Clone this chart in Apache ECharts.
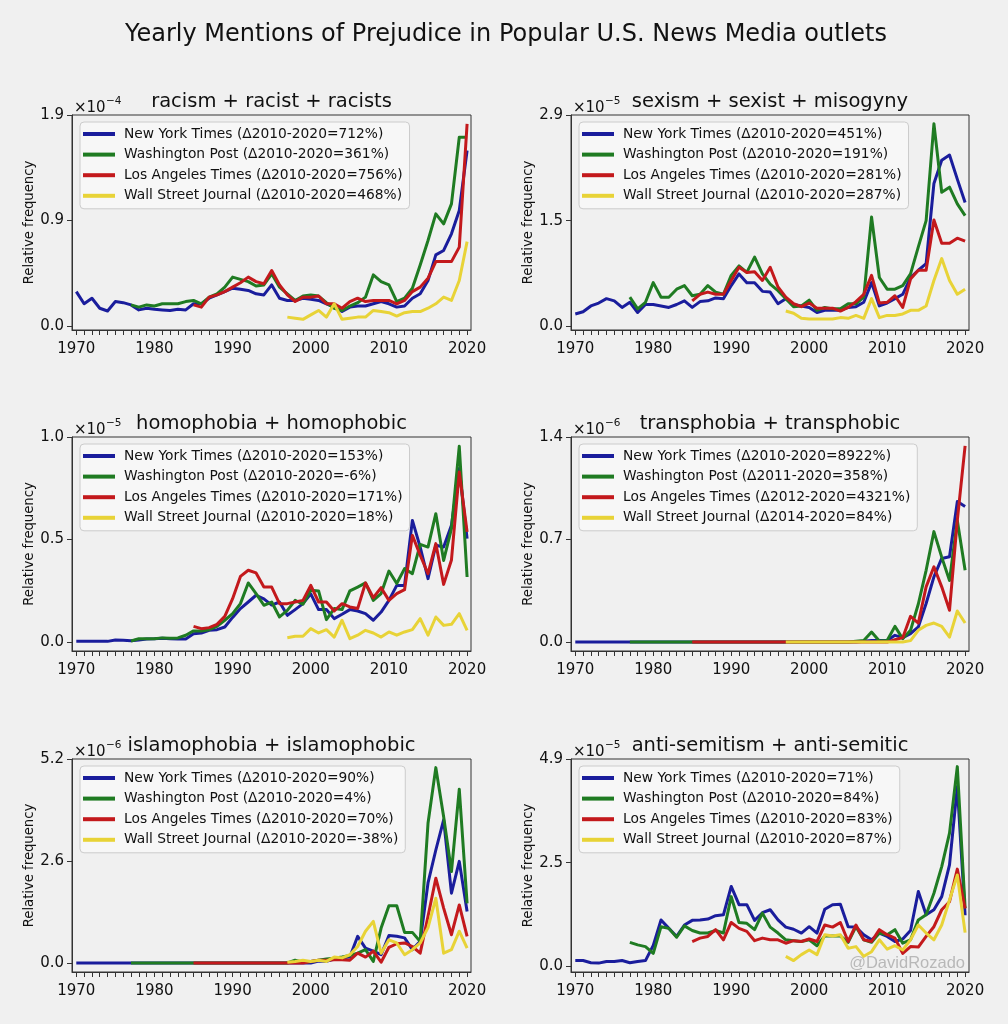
<!DOCTYPE html>
<html>
<head>
<meta charset="utf-8">
<title>Yearly Mentions of Prejudice in Popular U.S. News Media outlets</title>
<script src="https://cdn.jsdelivr.net/npm/echarts@6/dist/echarts.min.js"></script>
<style>
  html, body { margin: 0; padding: 0; background: #f0f0f0; }
  #chart { width: 1008px; height: 1024px; }
</style>
</head>
<body>
<div id="chart"></div>
<script>
// first year of each outlet's series
const nytStart = 1970
const wpStart = 1977
const latStart = 1985
const wsjStart = 1997

const decadeTicks = [1970, 1980, 1990, 2000, 2010, 2020]

// racism + racist + racists (x10^-4)
const racismNYT = [
  0.31, 0.20, 0.25, 0.16, 0.135, 0.22, 0.21, 0.19, 0.145, 0.16,
  0.15, 0.145, 0.14, 0.15, 0.145, 0.20, 0.20, 0.25, 0.28, 0.31,
  0.34, 0.33, 0.32, 0.29, 0.28, 0.37, 0.25, 0.23, 0.23, 0.25,
  0.24, 0.23, 0.20, 0.17, 0.13, 0.17, 0.18, 0.18, 0.20, 0.22,
  0.20, 0.17, 0.18, 0.25, 0.29, 0.41, 0.64, 0.68, 0.83, 1.04,
  1.58
]
const racismWP = [
  0.19, 0.17, 0.19,
  0.18, 0.20, 0.20, 0.20, 0.22, 0.23, 0.20, 0.26, 0.29, 0.35,
  0.44, 0.42, 0.40, 0.36, 0.37, 0.47, 0.35, 0.29, 0.23, 0.27,
  0.28, 0.27, 0.21, 0.16, 0.14, 0.18, 0.21, 0.26, 0.46, 0.40,
  0.37, 0.22, 0.25, 0.34, 0.55, 0.77, 1.01, 0.92, 1.10, 1.70,
  1.70
]
const racismLAT = [
  0.19, 0.17, 0.26, 0.28, 0.31,
  0.35, 0.39, 0.44, 0.40, 0.38, 0.50, 0.37, 0.28, 0.22, 0.26,
  0.26, 0.27, 0.20, 0.20, 0.16, 0.22, 0.25, 0.22, 0.23, 0.23,
  0.23, 0.20, 0.23, 0.31, 0.35, 0.43, 0.58, 0.58, 0.58, 0.71,
  1.82
]
const racismWSJ = [
  0.08, 0.07, 0.06,
  0.10, 0.14, 0.08, 0.20, 0.06, 0.07, 0.08, 0.08, 0.14, 0.13,
  0.12, 0.09, 0.12, 0.13, 0.13, 0.16, 0.20, 0.26, 0.23, 0.41,
  0.76
]
const racismLabels = [
  'New York Times (Δ2010-2020=712%)',
  'Washington Post (Δ2010-2020=361%)',
  'Los Angeles Times (Δ2010-2020=756%)',
  'Wall Street Journal (Δ2010-2020=468%)'
]
const racismTicks = [0, 0.95, 1.9]
const racismTickLabels = ['0.0', '0.9', '1.9']

// sexism + sexist + misogyny (x10^-5)
const sexismNYT = [
  0.17, 0.20, 0.28, 0.32, 0.38, 0.35, 0.26, 0.33, 0.19, 0.30,
  0.30, 0.28, 0.26, 0.30, 0.35, 0.26, 0.34, 0.35, 0.39, 0.38,
  0.56, 0.72, 0.60, 0.60, 0.48, 0.47, 0.31, 0.38, 0.30, 0.28,
  0.26, 0.19, 0.22, 0.22, 0.22, 0.26, 0.27, 0.33, 0.60, 0.28,
  0.32, 0.38, 0.44, 0.67, 0.77, 0.86, 1.96, 2.28, 2.35, 2.02,
  1.70
]
const sexismWP = [
  0.40, 0.24, 0.33,
  0.60, 0.40, 0.40, 0.51, 0.56, 0.42, 0.44, 0.56, 0.47, 0.44,
  0.70, 0.83, 0.74, 0.95, 0.72, 0.58, 0.49, 0.38, 0.27, 0.28,
  0.36, 0.22, 0.26, 0.24, 0.24, 0.31, 0.31, 0.40, 1.50, 0.67,
  0.51, 0.51, 0.56, 0.72, 1.09, 1.45, 2.78, 1.84, 1.91, 1.68,
  1.52
]
const sexismLAT = [
  0.35, 0.44, 0.47, 0.44, 0.44,
  0.63, 0.81, 0.74, 0.75, 0.63, 0.81, 0.54, 0.40, 0.31, 0.27,
  0.32, 0.25, 0.25, 0.25, 0.21, 0.26, 0.34, 0.44, 0.70, 0.32,
  0.33, 0.42, 0.26, 0.65, 0.77, 0.77, 1.46, 1.14, 1.14, 1.21,
  1.17
]
const sexismWSJ = [
  0.21, 0.18, 0.11,
  0.10, 0.10, 0.10, 0.10, 0.12, 0.11, 0.15, 0.11, 0.38, 0.12,
  0.15, 0.15, 0.17, 0.22, 0.22, 0.28, 0.63, 0.93, 0.63, 0.44,
  0.51
]
const sexismLabels = [
  'New York Times (Δ2010-2020=451%)',
  'Washington Post (Δ2010-2020=191%)',
  'Los Angeles Times (Δ2010-2020=281%)',
  'Wall Street Journal (Δ2010-2020=287%)'
]
const sexismTicks = [0, 1.45, 2.9]
const sexismTickLabels = ['0.0', '1.5', '2.9']

// homophobia + homophobic (x10^-5)
const homoNYT = [
  0.003, 0.003, 0.003, 0.003, 0.003, 0.010, 0.008, 0.006, 0.010, 0.015,
  0.016, 0.018, 0.016, 0.015, 0.015, 0.040, 0.044, 0.057, 0.060, 0.073,
  0.120, 0.163, 0.195, 0.228, 0.210, 0.180, 0.195, 0.130, 0.158, 0.187,
  0.235, 0.158, 0.158, 0.114, 0.135, 0.158, 0.151, 0.138, 0.106, 0.146,
  0.203, 0.276, 0.276, 0.593, 0.463, 0.309, 0.472, 0.463, 0.569, 0.846,
  0.504
]
const homoWP = [
  0.005, 0.016, 0.016,
  0.016, 0.020, 0.018, 0.020, 0.033, 0.054, 0.054, 0.060, 0.076, 0.106,
  0.138, 0.187, 0.288, 0.236, 0.179, 0.195, 0.122, 0.154, 0.203, 0.184,
  0.252, 0.249, 0.109, 0.163, 0.158, 0.249, 0.268, 0.288, 0.203, 0.236,
  0.346, 0.285, 0.358, 0.333, 0.476, 0.463, 0.626, 0.398, 0.553, 0.955,
  0.317
]
const homoLAT = [
  0.076, 0.065, 0.070, 0.086, 0.125,
  0.211, 0.320, 0.350, 0.337, 0.268, 0.268, 0.187, 0.187, 0.195, 0.203,
  0.276, 0.195, 0.195, 0.151, 0.187, 0.171, 0.163, 0.288, 0.216, 0.265,
  0.203, 0.236, 0.255, 0.520, 0.423, 0.333, 0.480, 0.281, 0.400, 0.829,
  0.537
]
const homoWSJ = [
  0.021, 0.028, 0.028,
  0.065, 0.044, 0.060, 0.024, 0.106, 0.016, 0.033, 0.057, 0.044, 0.024,
  0.049, 0.033, 0.049, 0.060, 0.114, 0.033, 0.122, 0.081, 0.086, 0.138,
  0.057
]
const homoLabels = [
  'New York Times (Δ2010-2020=153%)',
  'Washington Post (Δ2010-2020=-6%)',
  'Los Angeles Times (Δ2010-2020=171%)',
  'Wall Street Journal (Δ2010-2020=18%)'
]
const homoTicks = [0, 0.5, 1.0]
const homoTickLabels = ['0.0', '0.5', '1.0']

// transphobia + transphobic (x10^-6)
const transNYT = [
  0, 0, 0, 0, 0, 0, 0, 0, 0, 0,
  0, 0, 0, 0, 0, 0, 0, 0, 0, 0,
  0, 0, 0, 0, 0, 0, 0, 0, 0, 0,
  0, 0, 0, 0, 0, 0, 0, 0.005, 0.010, 0.010,
  0.010, 0.046, 0.030, 0.057, 0.103, 0.263, 0.445, 0.571, 0.582, 0.959,
  0.925
]
const transWP = [
  0, 0, 0,
  0, 0, 0, 0, 0, 0, 0, 0, 0, 0,
  0, 0, 0, 0, 0, 0, 0, 0, 0, 0,
  0, 0, 0, 0, 0, 0, 0.005, 0.010, 0.068, 0.007,
  0.011, 0.107, 0.023, 0.080, 0.260, 0.490, 0.754, 0.580, 0.420, 0.830,
  0.490
]
const transLAT = [
  0, 0, 0, 0, 0,
  0, 0, 0, 0, 0, 0, 0, 0, 0, 0,
  0, 0, 0, 0, 0, 0, 0, 0, 0, 0,
  0, 0.016, 0.030, 0.176, 0.130, 0.377, 0.514, 0.377, 0.217, 0.830,
  1.340
]
const transWSJ = [
  0, 0, 0,
  0, 0, 0, 0, 0, 0, 0, 0, 0, 0,
  0, 0, 0, 0.010, 0.080, 0.114, 0.130, 0.107, 0.034, 0.212,
  0.130
]
const transLabels = [
  'New York Times (Δ2010-2020=8922%)',
  'Washington Post (Δ2011-2020=358%)',
  'Los Angeles Times (Δ2012-2020=4321%)',
  'Wall Street Journal (Δ2014-2020=84%)'
]
const transTicks = [0, 0.7, 1.4]
const transTickLabels = ['0.0', '0.7', '1.4']

// islamophobia + islamophobic (x10^-6)
const islamNYT = [
  0, 0, 0, 0, 0, 0, 0, 0, 0, 0,
  0, 0, 0, 0, 0, 0, 0, 0, 0, 0,
  0, 0, 0, 0, 0, 0, 0, 0, 0, 0,
  0, 0.05, 0.04, 0.10, 0.13, 0.15, 0.68, 0.38, 0.30, 0.21,
  0.70, 0.68, 0.64, 0.34, 0.55, 2.04, 2.88, 3.65, 1.78, 2.59,
  1.31
]
const islamWP = [
  0, 0, 0,
  0, 0, 0, 0, 0, 0, 0, 0, 0, 0,
  0, 0, 0, 0, 0, 0, 0, 0, 0.07, 0.02,
  0.04, 0.07, 0.10, 0.12, 0.15, 0.19, 0.25, 0.34, 0.04, 0.89,
  1.46, 1.46, 0.78, 0.78, 0.55, 3.56, 4.98, 3.73, 2.33, 4.43,
  1.52
]
const islamLAT = [
  0, 0, 0, 0, 0,
  0, 0, 0, 0, 0, 0, 0, 0, 0, 0,
  0.04, 0.07, 0.07, 0.08, 0.08, 0.07, 0.25, 0.15, 0.30, 0.02,
  0.40, 0.49, 0.51, 0.42, 0.25, 1.19, 2.16, 1.40, 0.72, 1.48,
  0.68
]
const islamWSJ = [
  0.02, 0.04, 0.07,
  0.04, 0.07, 0.04, 0.15, 0.13, 0.21, 0.42, 0.81, 1.06, 0.25,
  0.59, 0.51, 0.21, 0.34, 0.51, 0.90, 1.65, 0.25, 0.34, 0.81,
  0.38
]
const islamLabels = [
  'New York Times (Δ2010-2020=90%)',
  'Washington Post (Δ2010-2020=4%)',
  'Los Angeles Times (Δ2010-2020=70%)',
  'Wall Street Journal (Δ2010-2020=-38%)'
]
const islamTicks = [0, 2.6, 5.2]
const islamTickLabels = ['0.0', '2.6', '5.2']

// anti-semitism + anti-semitic (x10^-5)
const antiNYT = [
  0.14, 0.14, 0.09, 0.08, 0.12, 0.12, 0.14, 0.09, 0.12, 0.14,
  0.50, 1.10, 0.90, 0.71, 0.98, 1.09, 1.10, 1.12, 1.20, 1.22,
  1.89, 1.46, 1.46, 1.09, 1.27, 1.34, 1.10, 0.93, 0.88, 0.79,
  0.94, 0.79, 1.35, 1.46, 1.47, 0.94, 0.93, 0.75, 0.63, 0.79,
  0.71, 0.59, 0.65, 0.85, 1.77, 1.22, 1.34, 1.65, 2.40, 4.25,
  1.21
]
const antiWP = [
  0.57, 0.51, 0.47,
  0.31, 0.94, 0.90, 0.69, 0.96, 0.85, 0.79, 0.79, 0.85, 0.79,
  1.65, 1.04, 1.02, 0.87, 1.26, 0.93, 0.79, 0.63, 0.61, 0.59,
  0.63, 0.49, 0.72, 0.72, 0.72, 0.57, 0.94, 0.63, 0.57, 0.79,
  0.75, 0.87, 0.55, 0.63, 1.10, 1.22, 1.73, 2.36, 3.15, 4.72,
  1.38
]
const antiLAT = [
  0.59, 0.67, 0.71, 0.87, 0.63,
  1.04, 0.90, 0.83, 0.61, 0.67, 0.63, 0.63, 0.55, 0.61, 0.59,
  0.65, 0.59, 0.98, 0.93, 1.04, 0.59, 0.98, 0.63, 0.59, 0.87,
  0.75, 0.67, 0.31, 0.47, 0.46, 0.71, 0.94, 1.34, 1.53, 2.30,
  1.37
]
const antiWSJ = [
  0.24, 0.14, 0.28,
  0.39, 0.28, 0.75, 0.72, 0.75, 0.43, 0.47, 0.24, 0.35, 0.63,
  0.41, 0.49, 0.39, 0.63, 0.98, 0.79, 0.63, 0.98, 1.57, 2.16,
  0.80
]
const antiLabels = [
  'New York Times (Δ2010-2020=71%)',
  'Washington Post (Δ2010-2020=84%)',
  'Los Angeles Times (Δ2010-2020=83%)',
  'Wall Street Journal (Δ2010-2020=87%)'
]
const antiTicks = [0, 2.45, 4.9]
const antiTickLabels = ['0.0', '2.5', '4.9']

const outletStarts = [nytStart, wpStart, latStart, wsjStart]
const outletColors = ['#1a1d9c', '#1f7b22', '#c3191c', '#e8d337']

const panels = [
  { title: 'racism + racist + racists', exp: '−4', yMin: -0.036, yMax: 1.9,
    ticks: racismTicks, tickLabels: racismTickLabels, names: racismLabels,
    data: [racismNYT, racismWP, racismLAT, racismWSJ] },
  { title: 'sexism + sexist + misogyny', exp: '−5', yMin: -0.05, yMax: 2.9,
    ticks: sexismTicks, tickLabels: sexismTickLabels, names: sexismLabels,
    data: [sexismNYT, sexismWP, sexismLAT, sexismWSJ] },
  { title: 'homophobia + homophobic', exp: '−5', yMin: -0.044, yMax: 1.0,
    ticks: homoTicks, tickLabels: homoTickLabels, names: homoLabels,
    data: [homoNYT, homoWP, homoLAT, homoWSJ] },
  { title: 'transphobia + transphobic', exp: '−6', yMin: -0.061, yMax: 1.4,
    ticks: transTicks, tickLabels: transTickLabels, names: transLabels,
    data: [transNYT, transWP, transLAT, transWSJ] },
  { title: 'islamophobia + islamophobic', exp: '−6', yMin: -0.23, yMax: 5.2,
    ticks: islamTicks, tickLabels: islamTickLabels, names: islamLabels,
    data: [islamNYT, islamWP, islamLAT, islamWSJ] },
  { title: 'anti-semitism + anti-semitic', exp: '−5', yMin: -0.13, yMax: 4.9,
    ticks: antiTicks, tickLabels: antiTickLabels, names: antiLabels,
    data: [antiNYT, antiWP, antiLAT, antiWSJ] }
]

// layout of the 3x2 panel grid (px)
const colLeft = [72, 571]
const colWidth = [399, 398]
const rowTop = [115, 437, 759]
const rowHeight = [215, 214, 213]

const FONT = 'DejaVu Sans'
const TEXT = '#111'
const SPINE = '#333'

const yearTicks = []
for (let y = 1970; y <= 2020; y++) yearTicks.push(y)

const grids = []
const xAxes = []
const yAxes = []
const series = []
const legends = []
const graphics = [{
  type: 'text', x: 506, y: 35,
  style: { text: 'Yearly Mentions of Prejudice in Popular U.S. News Media outlets',
    fontFamily: FONT, fontSize: 24, fill: TEXT, align: 'center', verticalAlign: 'middle' }
}]

panels.forEach((p, i) => {
  const col = i % 2
  const row = Math.floor(i / 2)
  const left = colLeft[col]
  const top = rowTop[row]
  const width = colWidth[col]
  const height = rowHeight[row]

  grids.push({
    left, top, width, height,
    show: true, borderColor: SPINE, borderWidth: 1, backgroundColor: 'transparent'
  })

  xAxes.push({
    type: 'value', gridIndex: i, min: 1969.45, max: 2020.5,
    axisLine: { show: true, onZero: false, lineStyle: { color: SPINE, width: 1 } },
    axisTick: { show: true, length: 5, customValues: yearTicks, lineStyle: { color: SPINE } },
    axisLabel: { customValues: decadeTicks, margin: 12, fontFamily: FONT, fontSize: 15, color: TEXT,
      formatter: (v) => String(v) },
    splitLine: { show: false }
  })

  yAxes.push({
    type: 'value', gridIndex: i, min: p.yMin, max: p.yMax,
    name: 'Relative frequency', nameLocation: 'middle', nameGap: 32,
    nameTextStyle: { fontFamily: FONT, fontSize: 13.2, color: TEXT },
    axisLine: { show: true, onZero: false, lineStyle: { color: SPINE, width: 1 } },
    axisTick: { show: true, length: 5, customValues: p.ticks, lineStyle: { color: SPINE } },
    axisLabel: { customValues: p.ticks, margin: 8, fontFamily: FONT, fontSize: 15, color: TEXT,
      formatter: (v) => {
        const k = p.ticks.findIndex(t => Math.abs(t - v) < 1e-9)
        return k >= 0 ? p.tickLabels[k] : ''
      } },
    splitLine: { show: false }
  })

  p.data.forEach((vals, s) => {
    series.push({
      type: 'line', name: p.names[s], xAxisIndex: i, yAxisIndex: i,
      data: vals.map((v, k) => [outletStarts[s] + k, v]),
      symbol: 'none', showSymbol: false,
      lineStyle: { width: 3, color: outletColors[s], join: 'round' },
      itemStyle: { color: outletColors[s] },
      z: 2 + s
    })
  })

  legends.push({
    data: p.names, orient: 'vertical', left: left + 8, top: top + 7,
    icon: 'rect', itemWidth: 32, itemHeight: 4, itemGap: 4.6,
    padding: [4, 7, 5, 3],
    backgroundColor: 'rgba(248,248,248,0.85)', borderColor: '#cccccc', borderWidth: 1, borderRadius: 4,
    textStyle: { fontFamily: FONT, fontSize: 13.8, color: TEXT, lineHeight: 16, padding: [0, 0, 0, 4] }
  })

  graphics.push({
    type: 'text', x: left + width / 2, y: top - 13,
    style: { text: p.title, fontFamily: FONT, fontSize: 19.5, fill: TEXT, align: 'center', verticalAlign: 'middle' }
  })
  graphics.push({
    type: 'text', x: left + 2, y: top - 7,
    style: { text: '×10', fontFamily: FONT, fontSize: 15, fill: TEXT, align: 'left', verticalAlign: 'middle' }
  })
  graphics.push({
    type: 'text', x: left + 34, y: top - 14,
    style: { text: p.exp, fontFamily: FONT, fontSize: 10.5, fill: TEXT, align: 'left', verticalAlign: 'middle' }
  })
})

graphics.push({
  type: 'text', x: 965, y: 963,
  style: { text: '@DavidRozado', fontFamily: 'Liberation Sans', fontSize: 16.5, fill: '#b8b8b8',
    align: 'right', verticalAlign: 'middle' }
})

const chart = echarts.init(document.getElementById('chart'))
chart.setOption({
  backgroundColor: '#f0f0f0',
  animation: false,
  grid: grids,
  xAxis: xAxes,
  yAxis: yAxes,
  legend: legends,
  series,
  graphic: graphics
})
</script>
</body>
</html>
